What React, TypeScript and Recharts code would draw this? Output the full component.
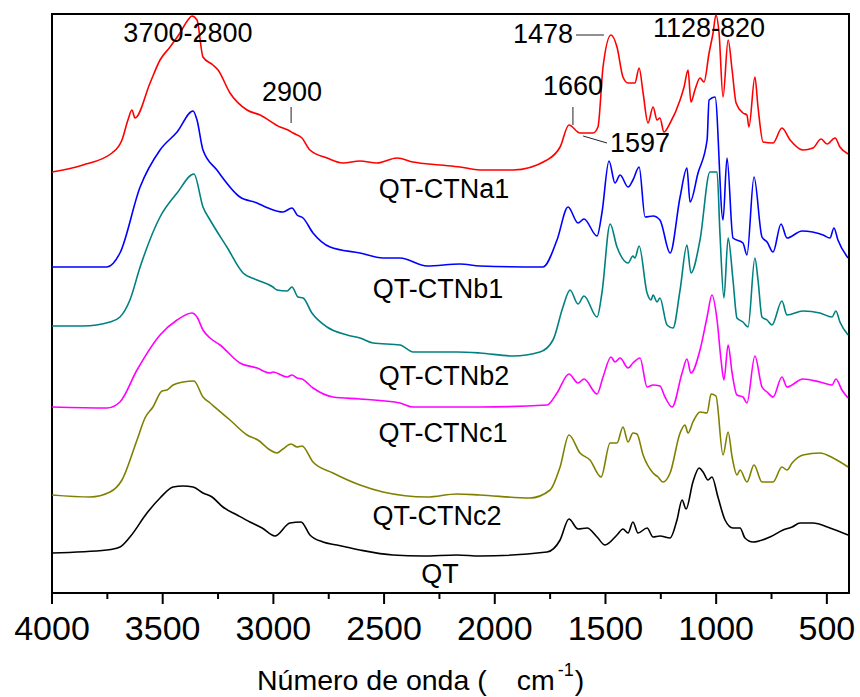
import {
  LineChart,
  Line,
  XAxis,
  YAxis,
  ReferenceArea,
  ReferenceDot,
  ReferenceLine,
} from "recharts";

// [wavenumber (cm-1), offset intensity]
type Pt = [number, number];

const qtCtna1: Pt[] = [
  [4000, 421], [3860, 428], [3729, 440], [3684, 453], [3657, 473], [3639, 483], [3625, 475],
  [3557, 510], [3512, 533], [3467, 546], [3422, 560], [3386, 573], [3368, 577], [3345, 573],
  [3318, 536], [3273, 528], [3250, 523], [3196, 500], [3119, 483], [3060, 478], [2970, 466],
  [2934, 463], [2911, 460], [2871, 455], [2835, 443], [2758, 435], [2686, 430], [2609, 432],
  [2532, 430], [2442, 435], [2369, 431], [2247, 428], [2157, 426], [2067, 423], [1918, 423],
  [1764, 433], [1705, 446], [1665, 468], [1615, 460], [1556, 460], [1534, 466], [1511, 526],
  [1475, 558], [1448, 546], [1421, 516], [1398, 510], [1367, 510], [1348, 525], [1330, 500],
  [1308, 470], [1285, 486], [1267, 473], [1254, 475], [1236, 461], [1208, 470], [1163, 493],
  [1145, 506], [1127, 523], [1114, 491], [1096, 503], [1073, 515], [1055, 511], [1032, 540],
  [1014, 560], [1001, 578], [987, 560], [969, 496], [946, 553], [928, 523], [910, 490],
  [879, 480], [861, 478], [852, 466], [825, 516], [811, 486], [788, 451], [743, 450],
  [703, 465], [666, 453], [608, 443], [563, 445], [526, 454], [499, 449], [463, 455],
  [441, 446], [404, 439],
];

const qtCtnb1: Pt[] = [
  [4000, 326], [3752, 326], [3693, 340], [3602, 406], [3512, 443], [3435, 461], [3363, 482],
  [3345, 473], [3318, 443], [3255, 423], [3151, 396], [3074, 390], [3024, 385], [2957, 381],
  [2916, 385], [2893, 378], [2866, 375], [2821, 360], [2744, 346], [2609, 340], [2505, 335],
  [2428, 335], [2306, 327], [2157, 329], [2067, 327], [1782, 326], [1719, 353], [1669, 386],
  [1624, 370], [1597, 374], [1538, 357], [1516, 380], [1484, 432], [1457, 410], [1434, 418],
  [1398, 406], [1376, 413], [1348, 426], [1321, 376], [1285, 377], [1254, 373], [1208, 340],
  [1163, 396], [1132, 425], [1118, 391], [1082, 420], [1041, 453], [1032, 493], [1005, 496],
  [969, 373], [951, 435], [924, 355], [879, 350], [861, 338], [829, 416], [793, 356],
  [770, 351], [743, 341], [707, 369], [680, 355], [612, 362], [517, 358], [486, 355],
  [468, 365], [450, 353], [404, 335],
];

const qtCtnb1b: Pt[] = [
  [4000, 267], [3860, 267], [3738, 271], [3693, 276], [3648, 293], [3602, 326], [3512, 376],
  [3435, 400], [3359, 419], [3318, 386], [3286, 373], [3210, 346], [3137, 320], [3074, 313],
  [3002, 306], [2984, 303], [2938, 302], [2916, 306], [2889, 296], [2866, 295], [2826, 280],
  [2758, 266], [2667, 258], [2609, 255], [2550, 250], [2428, 248], [2369, 241], [2171, 241],
  [2067, 240], [1918, 237], [1796, 241], [1737, 253], [1692, 286], [1660, 303], [1624, 289],
  [1597, 297], [1538, 276], [1516, 300], [1479, 369], [1448, 346], [1398, 330], [1376, 337],
  [1367, 335], [1348, 347], [1312, 300], [1294, 293], [1285, 298], [1267, 291], [1254, 295],
  [1222, 268], [1195, 265], [1163, 303], [1132, 348], [1114, 320], [1073, 353], [1028, 421],
  [996, 421], [983, 360], [965, 295], [946, 355], [924, 313], [906, 275], [879, 271],
  [856, 266], [825, 335], [811, 313], [793, 276], [770, 273], [748, 268], [703, 292],
  [680, 278], [608, 282], [531, 280], [477, 276], [459, 282], [441, 271], [404, 258],
];

const qtCtnb2: Pt[] = [
  [4000, 186], [3752, 185], [3693, 191], [3616, 223], [3512, 258], [3435, 273], [3368, 280],
  [3345, 276], [3318, 263], [3286, 255], [3241, 248], [3151, 230], [3074, 225], [3015, 220],
  [3002, 221], [2938, 216], [2916, 218], [2893, 215], [2871, 214], [2821, 205], [2731, 196],
  [2609, 194], [2428, 190], [2369, 186], [2171, 186], [2067, 186], [1764, 188], [1719, 200],
  [1665, 219], [1624, 210], [1597, 214], [1538, 199], [1511, 216], [1475, 236], [1457, 231],
  [1434, 235], [1398, 225], [1376, 230], [1344, 235], [1312, 206], [1285, 208], [1254, 207],
  [1231, 196], [1199, 186], [1154, 220], [1132, 234], [1114, 220], [1073, 243], [1041, 276],
  [1019, 298], [996, 273], [978, 233], [965, 213], [946, 248], [928, 220], [906, 198],
  [879, 196], [861, 190], [825, 237], [793, 206], [770, 201], [743, 196], [703, 216],
  [680, 206], [608, 214], [531, 211], [477, 208], [459, 214], [432, 203], [404, 195],
];

const qtCtnc1: Pt[] = [
  [4000, 98], [3828, 96], [3738, 101], [3684, 113], [3616, 153], [3580, 175], [3544, 186],
  [3503, 202], [3481, 203], [3453, 208], [3408, 211], [3359, 212], [3318, 196], [3286, 190],
  [3196, 173], [3119, 158], [3070, 153], [3015, 143], [2984, 140], [2957, 144], [2920, 149],
  [2893, 146], [2871, 147], [2821, 131], [2731, 120], [2609, 108], [2505, 101], [2306, 96],
  [2171, 99], [2067, 98], [1841, 95], [1750, 103], [1705, 126], [1665, 158], [1615, 140],
  [1570, 133], [1520, 116], [1479, 150], [1448, 150], [1421, 166], [1398, 151], [1376, 160],
  [1358, 159], [1330, 138], [1285, 120], [1263, 116], [1240, 111], [1208, 120], [1163, 160],
  [1141, 168], [1127, 160], [1105, 171], [1073, 181], [1041, 180], [1023, 199], [1001, 197],
  [969, 138], [946, 161], [928, 136], [906, 118], [892, 123], [861, 111], [829, 128],
  [793, 111], [743, 111], [703, 126], [680, 123], [657, 130], [608, 138], [531, 140],
  [472, 135], [404, 126],
];

const qt: Pt[] = [
  [4000, 40], [3752, 43], [3693, 46], [3648, 56], [3571, 80], [3512, 95], [3453, 106],
  [3408, 107], [3363, 106], [3318, 100], [3277, 96], [3228, 86], [3164, 78], [3106, 71],
  [3051, 65], [2993, 57], [2925, 70], [2875, 71], [2835, 58], [2776, 51], [2713, 48],
  [2609, 43], [2460, 38], [2324, 37], [2171, 38], [2067, 37], [1764, 41], [1705, 53],
  [1665, 74], [1624, 64], [1583, 65], [1538, 56], [1502, 48], [1448, 58], [1421, 64],
  [1398, 60], [1376, 71], [1353, 60], [1312, 65], [1285, 56], [1254, 57], [1208, 55],
  [1177, 73], [1154, 93], [1136, 84], [1105, 111], [1077, 125], [1059, 121], [1037, 113],
  [1019, 116], [992, 96], [960, 73], [924, 65], [892, 65], [870, 55], [834, 51], [757, 56],
  [698, 63], [657, 66], [621, 70], [563, 70], [486, 65], [404, 58],
];

const series = [
  { key: "a1", color: "#ff0000", points: qtCtna1 },
  { key: "b1", color: "#0000ff", points: qtCtnb1 },
  { key: "b1b", color: "#008080", points: qtCtnb1b },
  { key: "b2", color: "#ff00ff", points: qtCtnb2 },
  { key: "c1", color: "#808000", points: qtCtnc1 },
  { key: "qt", color: "#000000", points: qt },
];

const xTicks = [
  4000, 3750, 3500, 3250, 3000, 2750, 2500, 2250, 2000, 1750, 1500, 1250, 1000, 750, 500,
];

// text anchor = centre / baseline of each label
const peakLabels = [
  { wn: 3386, v: 551, text: "3700-2800" },
  { wn: 2916, v: 492, text: "2900" },
  { wn: 1782, v: 550, text: "1478" },
  { wn: 1032, v: 556, text: "1128-820" },
  { wn: 1647, v: 498, text: "1660" },
  { wn: 1344, v: 441, text: "1597" },
];

const sampleLabels = [
  { wn: 2229, v: 395, text: "QT-CTNa1" },
  { wn: 2256, v: 295, text: "QT-CTNb1" },
  { wn: 2229, v: 208, text: "QT-CTNb2" },
  { wn: 2234, v: 151, text: "QT-CTNc1" },
  { wn: 2261, v: 68, text: "QT-CTNc2" },
  { wn: 2247, v: 10, text: "QT" },
];

const leaders = [
  { x1: 2920, y1: 486, x2: 2920, y2: 470 },
  { x1: 1633, y1: 558, x2: 1507, y2: 558 },
  { x1: 1647, y1: 486, x2: 1647, y2: 468 },
  { x1: 1601, y1: 457, x2: 1493, y2: 450 },
];

function WaveTick({ x, y, payload }: any) {
  const major = payload.value % 500 === 0;
  return (
    <g>
      <line x1={x} y1={y} x2={x} y2={y + (major ? 11 : 6)} stroke="#000" strokeWidth={2} />
      {major && (
        <text x={x} y={y + 47} textAnchor="middle" fontSize={34} fill="#000">
          {payload.value}
        </text>
      )}
    </g>
  );
}

function AxisTitle({ viewBox }: any) {
  return (
    <text x={viewBox.x + 205} y={viewBox.y + 97} fontSize={28.5} fill="#000">
      Número de onda (
      <tspan dx={30}>cm</tspan>
      <tspan dx={3} dy={-14} fontSize={18}>-1</tspan>
      <tspan dx={1} dy={14} fontSize={28.5}>)</tspan>
    </text>
  );
}

const textShape = (text: string) => (p: any) =>
  (
    <text x={p.cx} y={p.cy} textAnchor="middle" fontSize={27} fill="#000">
      {text}
    </text>
  );

export default function App() {
  return (
    <div
      style={{
        position: "absolute",
        left: 0,
        top: 0,
        fontFamily: "'Liberation Sans', Arial, sans-serif",
      }}
    >
      <LineChart width={860} height={697} margin={{ top: 14, right: 11, bottom: 0, left: 52 }}>
        <XAxis
          dataKey="wn"
          type="number"
          domain={[400, 4000]}
          reversed
          allowDataOverflow
          ticks={xTicks}
          interval={0}
          tickSize={0}
          tickMargin={0}
          tickLine={false}
          tick={<WaveTick />}
          height={104}
          axisLine={{ stroke: "#000", strokeWidth: 2 }}
          label={AxisTitle}
        />
        <YAxis hide type="number" domain={[0, 579]} allowDataOverflow />
        <ReferenceArea
          x1={400}
          x2={4000}
          y1={0}
          y2={579}
          fill="none"
          stroke="#000"
          strokeWidth={2}
        />
        {series.map((s) => (
          <Line
            key={s.key}
            data={s.points.map(([wn, v]) => ({ wn, v }))}
            dataKey="v"
            type="monotone"
            stroke={s.color}
            strokeWidth={1.6}
            dot={false}
            activeDot={false}
            isAnimationActive={false}
          />
        ))}
        {leaders.map((l, i) => (
          <ReferenceLine
            key={"l" + i}
            segment={[
              { x: l.x1, y: l.y1 },
              { x: l.x2, y: l.y2 },
            ]}
            stroke="#222"
            strokeWidth={1}
          />
        ))}
        {peakLabels.concat(sampleLabels).map((l) => (
          <ReferenceDot key={l.text} x={l.wn} y={l.v} r={0} shape={textShape(l.text)} />
        ))}
      </LineChart>
    </div>
  );
}
